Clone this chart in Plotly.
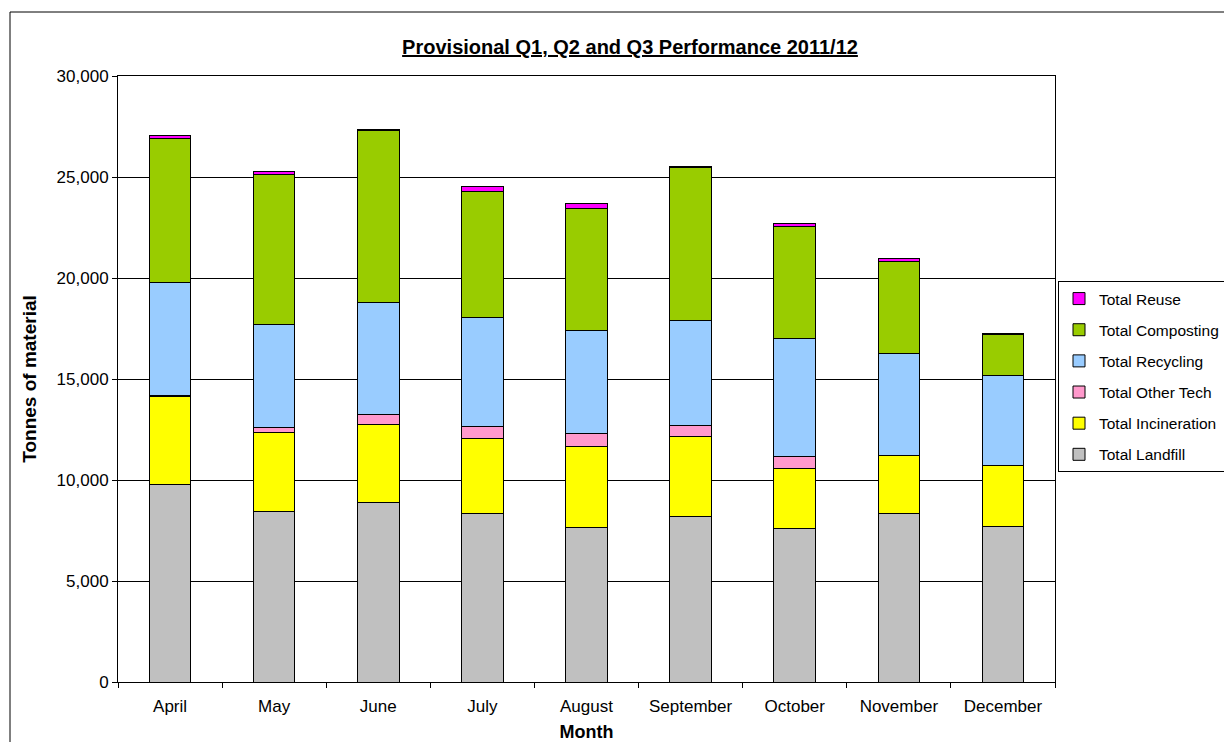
import plotly.graph_objects as go

months = ["April", "May", "June", "July", "August", "September", "October", "November", "December"]

landfill = [9770, 8465, 8880, 8350, 7660, 8200, 7575, 8335, 7705]
incineration = [4340, 3880, 3875, 3700, 4010, 3960, 3005, 2870, 3020]
other_tech = [60, 230, 495, 575, 630, 545, 560, 15, 0]
recycling = [5630, 5120, 5530, 5415, 5110, 5200, 5875, 5065, 4440]
composting = [7130, 7425, 8530, 6250, 6025, 7560, 5545, 4555, 2030]
reuse = [120, 165, 60, 245, 230, 70, 150, 150, 70]

series = [
    ("Total Landfill", landfill, "#C0C0C0"),
    ("Total Incineration", incineration, "#FFFF00"),
    ("Total Other Tech", other_tech, "#FF99CC"),
    ("Total Recycling", recycling, "#99CCFF"),
    ("Total Composting", composting, "#99CC00"),
    ("Total Reuse", reuse, "#FF00FF"),
]

fig = go.Figure()
n = len(series)
for i, (name, vals, col) in enumerate(series):
    fig.add_trace(go.Bar(
        x=months, y=vals, name=name, legendgroup=name, legendrank=n - i,
        marker=dict(color=col, line=dict(color="#000000", width=1)),
    ))

W, H = 1224, 742
L, R, T, B = 118, 169, 76, 60
pw, ph = W - L - R, H - T - B

fig.update_layout(
    width=W, height=H,
    barmode="stack", bargap=0.6,
    margin=dict(l=L, r=R, t=T, b=B, autoexpand=False),
    paper_bgcolor="white", plot_bgcolor="white",
    font=dict(family="Liberation Sans, Arial, sans-serif", size=17, color="#000000"),
    title=dict(
        text="<b><u>Provisional Q1, Q2 and Q3 Performance 2011/12</u></b>",
        x=630 / W, xref="container", xanchor="center",
        y=1 - 47 / H, yref="container", yanchor="middle",
        font=dict(size=20),
    ),
    xaxis=dict(
        title=dict(text="<b>Month</b>", font=dict(size=18), standoff=10),
        showline=True, linecolor="#000000", linewidth=1, mirror=True,
        ticks="outside", ticklen=5, tickcolor="#000000", tickson="boundaries",
        showgrid=False, tickfont=dict(size=17), ticklabelstandoff=9,
    ),
    yaxis=dict(
        title=dict(text="<b>Tonnes of material</b>", font=dict(size=19), standoff=14),
        range=[0, 30000], dtick=5000, tickformat=",",
        showline=True, linecolor="#000000", linewidth=1, mirror=True,
        ticks="outside", ticklen=5, tickcolor="#000000",
        showgrid=True, gridcolor="#000000", gridwidth=1,
        tickfont=dict(size=17), zeroline=False,
    ),
    legend=dict(
        x=(1058 - L) / pw, xanchor="left",
        y=(H - B - 281) / ph, yanchor="top",
        traceorder="grouped", tracegroupgap=8,
        bordercolor="#000000", borderwidth=1, bgcolor="white",
        font=dict(size=15.5),
        itemwidth=30,
    ),
    shapes=[dict(
        type="rect", xref="paper", yref="paper",
        x0=(10 - L) / pw, x1=(1240 - L) / pw,
        y0=(H - B - 760) / ph, y1=(H - B - 12) / ph,
        line=dict(color="#000000", width=1), fillcolor="rgba(0,0,0,0)",
        layer="below",
    )],
)

fig.write_html(
    "out.html",
    config={"displayModeBar": False},
    post_script="document.body.style.margin='0';document.body.style.overflow='hidden';",
)
